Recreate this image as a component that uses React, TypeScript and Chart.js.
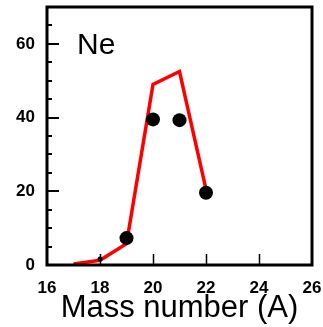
import React, { useEffect, useRef } from "react";
import { Chart, registerables } from "chart.js";
Chart.register(...registerables);

const massNumbers = [17, 18, 19, 20, 21, 22];
const modelValues = [0.3, 1.3, 5.8, 49, 52.5, 20.5];
const dataMass = [18, 19, 20, 21, 22];
const dataValues = [1.6, 7.3, 39.5, 39.3, 19.6];
const xTicks = [16, 18, 20, 22, 24, 26];
const yLabels = [0, 20, 40, 60];
const elementLabel = "Ne";
const xTitle = "Mass number (A)";

const framePlugin = {
  id: "frame",
  afterDatasetsDraw(chart: any) {
    const { ctx, chartArea: a, scales } = chart;
    const x = scales.x;
    const y = scales.y;
    ctx.save();
    ctx.strokeStyle = "#000";
    ctx.lineWidth = 2;
    for (let v = 5; v < 70; v += 5) {
      const py = Math.round(y.getPixelForValue(v));
      const len = yLabels.includes(v) ? 12 : 5;
      ctx.beginPath();
      ctx.moveTo(a.left, py);
      ctx.lineTo(a.left + len, py);
      ctx.stroke();
    }
    ctx.lineWidth = 1.5;
    for (const v of xTicks) {
      if (v === 16 || v === 26) continue;
      const px = Math.round(x.getPixelForValue(v)) + 0.5;
      ctx.beginPath();
      ctx.moveTo(px, a.bottom);
      ctx.lineTo(px, a.bottom - 11);
      ctx.stroke();
    }
    ctx.lineWidth = 3;
    ctx.strokeRect(a.left, a.top, a.right - a.left, a.bottom - a.top);
    ctx.fillStyle = "#000";
    ctx.font = "30px 'Liberation Sans', Arial, sans-serif";
    ctx.textBaseline = "alphabetic";
    ctx.textAlign = "left";
    ctx.fillText(elementLabel, a.left + 30, a.top + 47);
    ctx.restore();
  },
};

export default function App() {
  const ref = useRef<HTMLCanvasElement>(null);
  useEffect(() => {
    const chart = new Chart(ref.current!, {
      type: "line",
      data: {
        datasets: [
          {
            data: massNumbers.map((m, i) => ({ x: m, y: modelValues[i] })),
            borderColor: "#ff0000",
            borderWidth: 3.5,
            pointRadius: 0,
            fill: false,
            tension: 0,
            order: 2,
          },
          {
            data: dataMass.map((m, i) => ({ x: m, y: dataValues[i] })),
            showLine: false,
            pointRadius: (c: any) => (c.dataIndex === 0 ? 2.5 : 7),
            pointBackgroundColor: "#000",
            pointBorderColor: "#000",
            pointBorderWidth: 0,
            order: 1,
          },
        ],
      },
      options: {
        animation: false,
        responsive: false,
        maintainAspectRatio: false,
        layout: { padding: { top: 6, right: 11, left: 0, bottom: 0 } },
        plugins: { legend: { display: false }, tooltip: { enabled: false } },
        scales: {
          x: {
            type: "linear",
            min: 16,
            max: 26,
            afterBuildTicks: (s: any) => {
              s.ticks = xTicks.map((v) => ({ value: v }));
            },
            afterFit: (s: any) => {
              s.height = 62;
              s.paddingLeft = 0;
              s.paddingRight = 0;
            },
            grid: { display: false, drawTicks: false },
            border: { display: false },
            ticks: {
              padding: 13,
              color: "#000",
              font: { family: "'Liberation Sans', Arial, sans-serif", size: 17, weight: "bold" },
              maxRotation: 0,
            },
            title: {
              display: true,
              text: xTitle,
              color: "#000",
              padding: { top: 0, bottom: 0 },
              font: { family: "'Liberation Sans', Arial, sans-serif", size: 31 },
            },
          },
          y: {
            type: "linear",
            min: 0,
            max: 70,
            afterBuildTicks: (s: any) => {
              s.ticks = yLabels.map((v) => ({ value: v }));
            },
            afterFit: (s: any) => {
              s.width = 47;
              s.paddingTop = 0;
              s.paddingBottom = 0;
            },
            grid: { display: false, drawTicks: false },
            border: { display: false },
            ticks: {
              padding: 12,
              color: "#000",
              font: { family: "'Liberation Sans', Arial, sans-serif", size: 17, weight: "bold" },
            },
          },
        },
      },
      plugins: [framePlugin],
    } as any);
    return () => chart.destroy();
  }, []);
  return (
    <div style={{ position: "fixed", left: 0, top: 0, width: 323, height: 327, background: "#fff" }}>
      <canvas ref={ref} width={323} height={327} style={{ width: 323, height: 327 }} />
    </div>
  );
}
